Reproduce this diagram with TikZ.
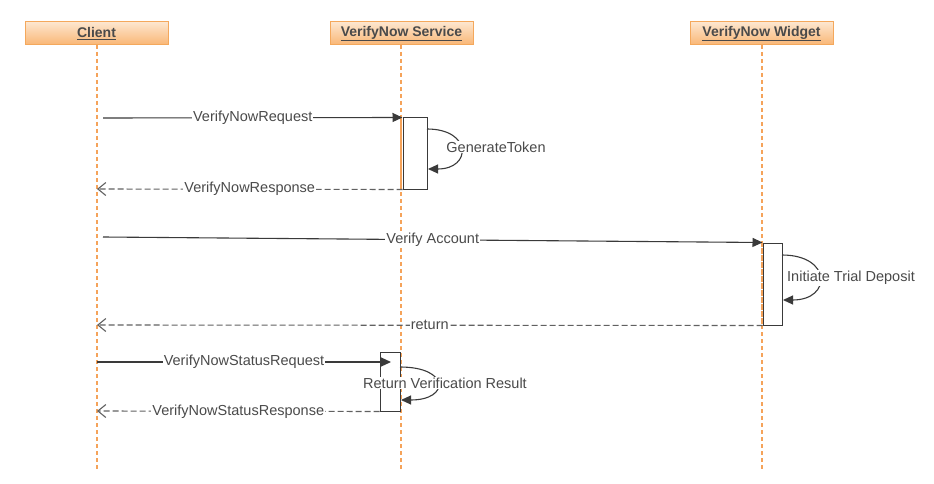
\documentclass[tikz,border=0pt]{standalone}
\usepackage{fontspec}
\setmainfont{Liberation Sans}
\usetikzlibrary{arrows.meta}
\definecolor{txt}{HTML}{4A4A4A}
\definecolor{ln}{HTML}{3A3A3A}
\definecolor{life}{HTML}{F5A35A}
\definecolor{btop}{HTML}{FDE6CF}
\definecolor{bbot}{HTML}{F9B674}
\definecolor{bdraw}{HTML}{F4A85C}
\begin{document}
\begin{tikzpicture}[x=1pt,y=-1pt,
  head/.style={minimum width=143pt, minimum height=23pt, inner sep=0pt,
    top color=btop, bottom color=bbot, draw=bdraw, line width=1pt,
    text=txt, font=\fontsize{14}{16}\selectfont\bfseries},
  lifeline/.style={draw=life, line width=1.5pt, dash pattern=on 4pt off 3pt},
  act/.style={draw=ln, fill=white, line width=1pt, inner sep=0pt},
  sync/.style={draw=ln, line width=1.1pt, -{Triangle[length=10pt,width=9pt]}},
  ret/.style={draw=ln!80, line width=1.1pt, dash pattern=on 6pt off 3pt, -{Straight Barb[length=8pt,width=13pt]}},
  msg/.style={fill=white, text=txt, inner sep=1pt, font=\fontsize{14.5}{16}\selectfont},
]
\useasboundingbox (0,0) rectangle (934,484);
\fill[white] (0,0) rectangle (934,484);

% heads
\node[head] (client) at (96.5,33.5) {\underline{Client}};
\node[head] (service) at (401.5,33.5) {\underline{VerifyNow Service}};
\node[head] (widget) at (761.5,33.5) {\underline{VerifyNow Widget}};

% lifelines
\coordinate (clst) at (97,45);
\coordinate (clend) at (97,470);
\coordinate (svst) at (401,45);
\coordinate (svend) at (401,470);
\coordinate (wdst) at (762,45);
\coordinate (wdend) at (762,470);
\draw[lifeline] (clst) -- (clend);
\draw[lifeline] (svst) -- (svend);
\draw[lifeline] (wdst) -- (wdend);

% activations
\node[act, minimum width=24pt, minimum height=71pt] (act1) at (415,153.5) {};
\node[act, minimum width=19pt, minimum height=82pt] (act2) at (772.5,284) {};
\node[act, minimum width=20pt, minimum height=59pt] (act3) at (390,381.5) {};
% lifeline visible through left edge of activations
\draw[lifeline] (401,118) -- (401,189);
\draw[lifeline] (762,243) -- (762,325);

% message end points
\coordinate (c1) at (103,118);
\coordinate (c2) at (97,189);
\coordinate (c3) at (103,237);
\coordinate (c4) at (97,325);
\coordinate (c5) at (97,362);
\coordinate (c5e) at (391,362);
\coordinate (c6) at (97,411);

\draw[sync] (c1) -- node[msg] {VerifyNowRequest} (act1.north west);
\draw[ret] (act1.south west) -- node[msg] {VerifyNowResponse} (c2);
\draw[sync] (c3) -- node[msg] {Verify Account} (act2.north west);
\draw[ret] (act2.south west) -- node[msg] {return} (c4);
\draw[sync] (c5) -- node[msg] {VerifyNowStatusRequest} (c5e);
\draw[ret] (act3.south west) -- node[msg] {VerifyNowStatusResponse} (c6);

% self messages
\coordinate (s1a) at (427,129);
\coordinate (s1b) at (428,169);
\draw[sync] (s1a) .. controls (472,129) and (472,169) .. (s1b);
\node[msg] (l1) at (496,147) {GenerateToken};

\coordinate (s2a) at (782,255);
\coordinate (s2b) at (783,300);
\draw[sync] (s2a) .. controls (832,255) and (832,300) .. (s2b);
\node[msg] (l2) at (851,278) {Initiate Trial Deposit};

\coordinate (s3a) at (400,367);
\coordinate (s3b) at (401,400);
\draw[sync] (s3a) .. controls (450,367) and (450,400) .. (s3b);
\node[msg] (l3) at (445,383) {Return Verification Result};
\end{tikzpicture}
\end{document}
